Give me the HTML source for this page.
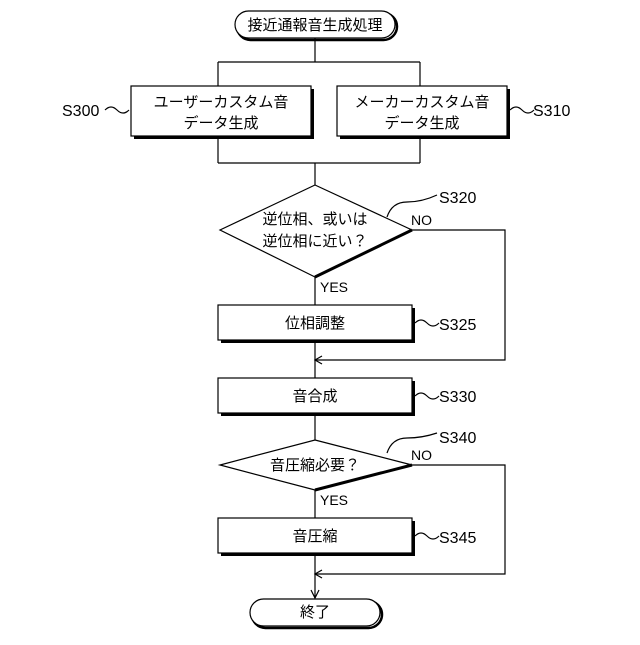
<!DOCTYPE html>
<html><head><meta charset="utf-8"><style>body{margin:0;background:#fff}</style></head><body>
<svg width="640" height="640" viewBox="0 0 640 640" xmlns="http://www.w3.org/2000/svg" font-family="Liberation Sans, Noto Sans CJK JP, sans-serif" font-size="15" fill="#000">
<g stroke="#000" stroke-width="1.2" fill="none">
<!-- start -->
<rect x="237" y="13" width="160" height="27" rx="13.5" stroke-width="2.5"/>
<rect x="235" y="11" width="160" height="27" rx="13.5" fill="#fff"/>
<line x1="315" y1="38" x2="315" y2="62"/>
<line x1="218" y1="62" x2="420" y2="62"/>
<line x1="218" y1="62" x2="218" y2="163"/>
<line x1="420" y1="62" x2="420" y2="163"/>
<line x1="218" y1="163" x2="420" y2="163"/>
<line x1="315" y1="163" x2="315" y2="185"/>
<!-- boxes top -->
<rect x="134" y="89" width="180" height="50" fill="#000" stroke-width="0"/>
<rect x="131" y="86" width="180" height="50" fill="#fff"/>
<rect x="340" y="89" width="170" height="50" fill="#000" stroke-width="0"/>
<rect x="337" y="86" width="170" height="50" fill="#fff"/>
<!-- diamond1 -->
<polygon points="315,185 412,230 315,277 220,230" fill="#fff"/>
<line x1="412" y1="230" x2="315" y2="277" stroke-width="3"/>
<polyline points="412,230 505,230 505,360 315,360"/>
<polyline points="322,356 315,360 322,364"/>
<line x1="315" y1="277" x2="315" y2="378"/>
<rect x="221" y="308" width="194" height="35" fill="#000" stroke-width="0"/>
<rect x="218" y="305" width="194" height="35" fill="#fff"/>
<rect x="221" y="381" width="194" height="35" fill="#000" stroke-width="0"/>
<rect x="218" y="378" width="194" height="35" fill="#fff"/>
<line x1="315" y1="413" x2="315" y2="440"/>
<!-- diamond2 -->
<polygon points="315,440 412,465 315,490 220,465" fill="#fff"/>
<line x1="412" y1="465" x2="315" y2="490" stroke-width="3"/>
<polyline points="412,465 505,465 505,574 315,574"/>
<polyline points="322,570 315,574 322,578"/>
<line x1="315" y1="490" x2="315" y2="598"/>
<polyline points="311,590 315,598 319,590"/>
<rect x="221" y="521" width="194" height="35" fill="#000" stroke-width="0"/>
<rect x="218" y="518" width="194" height="35" fill="#fff"/>
<!-- end -->
<rect x="252" y="601" width="130" height="27" rx="13.5" stroke-width="2.5"/>
<rect x="250" y="599" width="130" height="27" rx="13.5" fill="#fff"/>
<!-- squiggles -->
<path d="M105,110 q6,-6 12,0 t12,0"/>
<path d="M510,110 q6,-6 12,0 t12,0"/>
<path d="M415,323 q6,-6 12,0 t12,0"/>
<path d="M415,396 q6,-6 12,0 t12,0"/>
<path d="M415,536 q6,-6 12,0 t12,0"/>
<path d="M387,217 q5,-15 20,-15 t30,-7"/>
<path d="M387,453 q5,-15 20,-15 t30,-5"/>
</g>
<g text-anchor="middle">
<text x="315" y="30">接近通報音生成処理</text>
<text x="221" y="107">ユーザーカスタム音</text>
<text x="221" y="128">データ生成</text>
<text x="422" y="107">メーカーカスタム音</text>
<text x="422" y="128">データ生成</text>
<text x="315" y="224">逆位相、或いは</text>
<text x="315" y="246">逆位相に近い？</text>
<text x="315" y="328">位相調整</text>
<text x="315" y="401">音合成</text>
<text x="315" y="470">音圧縮必要？</text>
<text x="315" y="541">音圧縮</text>
<text x="315" y="617">終了</text>
</g>
<g font-size="16">
<text x="62" y="116">S300</text>
<text x="533" y="116">S310</text>
<text x="439" y="203">S320</text>
<text x="439" y="330">S325</text>
<text x="439" y="402">S330</text>
<text x="439" y="443">S340</text>
<text x="439" y="543">S345</text>
</g>
<g font-size="14">
<text x="411" y="225">NO</text>
<text x="320" y="292">YES</text>
<text x="411" y="460">NO</text>
<text x="320" y="505">YES</text>
</g>
</svg>
</body></html>
